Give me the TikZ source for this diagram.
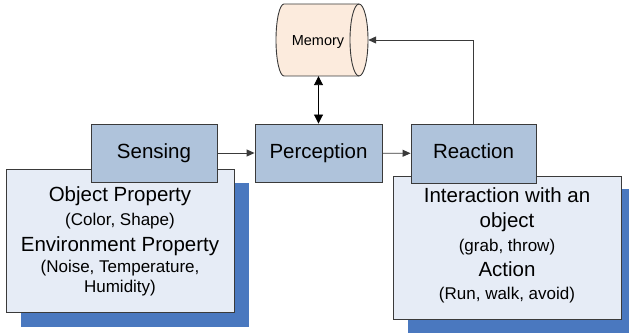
\documentclass[tikz,border=0pt]{standalone}
\usepackage{fontspec}
\setmainfont{Liberation Sans}
\usetikzlibrary{arrows.meta}
\definecolor{boxfill}{HTML}{AFC3DB}
\definecolor{infofill}{HTML}{E6ECF6}
\definecolor{shadowc}{HTML}{4A78BF}
\definecolor{memfill}{HTML}{FCEBDD}
\definecolor{edgec}{HTML}{3A3A3A}
\begin{document}
\begin{tikzpicture}[x=1pt,y=-1pt,
  stagebox/.style={draw=edgec, fill=boxfill, line width=0.9pt, inner sep=0pt,
    font=\fontsize{20.5}{24}\selectfont, text height=15pt, text depth=4pt},
  infobox/.style={draw=edgec, fill=infofill, line width=0.9pt, anchor=north west,
    minimum width=228pt, minimum height=143pt, inner sep=0pt},
  bigtxt/.style={anchor=base, inner sep=0pt, font=\fontsize{20.5}{24}\selectfont},
  smalltxt/.style={anchor=base, inner sep=0pt, font=\fontsize{17}{20}\selectfont},
  arr/.style={draw=edgec, line width=0.9pt, -{Triangle[length=8pt,width=7pt]}},
  darr/.style={draw=black, line width=0.9pt, {Triangle[length=9pt,width=9pt]}-{Triangle[length=9pt,width=9pt]}}
]
\useasboundingbox (0,0) rectangle (629,336);

% left info box
\fill[shadowc] (21,183) rectangle (249,327);
\node[infobox] (leftinfo) at (6,169) {};
\node[bigtxt] (op) at (120,202) {Object Property};
\node[smalltxt] (opd) at (120,226) {(Color, Shape)};
\node[bigtxt] (ep) at (120,252) {Environment Property};
\node[smalltxt] (epd1) at (120,273) {(Noise, Temperature,};
\node[smalltxt] (epd2) at (120,293) {Humidity)};

% right info box
\fill[shadowc] (408,189) rectangle (629,333);
\node[infobox] (rightinfo) at (393,176) {};
\node[bigtxt] (iw) at (507,203) {Interaction with an};
\node[bigtxt] (ob) at (507,228) {object};
\node[smalltxt] (obd) at (507,252) {(grab, throw)};
\node[bigtxt] (ac) at (507,277) {Action};
\node[smalltxt] (acd) at (507,300) {(Run, walk, avoid)};

% stage boxes
\node[stagebox, minimum width=126pt, minimum height=58pt] (sensing) at (154,153) {Sensing};
\node[stagebox, minimum width=127pt, minimum height=58pt] (perception) at (318.5,153) {Perception};
\node[stagebox, minimum width=125pt, minimum height=59pt] (reaction) at (473.5,153.5) {Reaction};

% memory cylinder
\node[minimum width=92pt, minimum height=72pt, inner sep=0pt] (memory) at (322,40) {};
\filldraw[fill=memfill, draw=edgec, line width=0.9pt]
  (284,4) -- (359,4)
  .. controls (363.97,4) and (368,20.1) .. (368,40)
  .. controls (368,59.9) and (363.97,76) .. (359,76)
  -- (284,76)
  .. controls (279.6,76) and (276,59.9) .. (276,40)
  .. controls (276,20.1) and (279.6,4) .. (284,4) -- cycle;
\draw[draw=edgec, line width=0.9pt] (359,4)
  .. controls (354.03,4) and (350,20.1) .. (350,40)
  .. controls (350,59.9) and (354.03,76) .. (359,76);
\node[anchor=base, inner sep=0pt, font=\fontsize{14.5}{17}\selectfont] (memtxt) at (318,46) {Memory};

% connectors
\draw[arr] (sensing) -- (perception);
\draw[arr] (perception) -- (reaction);
\draw[darr] (perception.north |- memory.south) -- (perception.north);
\draw[arr] (reaction.north) |- (memory.east);
\end{tikzpicture}
\end{document}
